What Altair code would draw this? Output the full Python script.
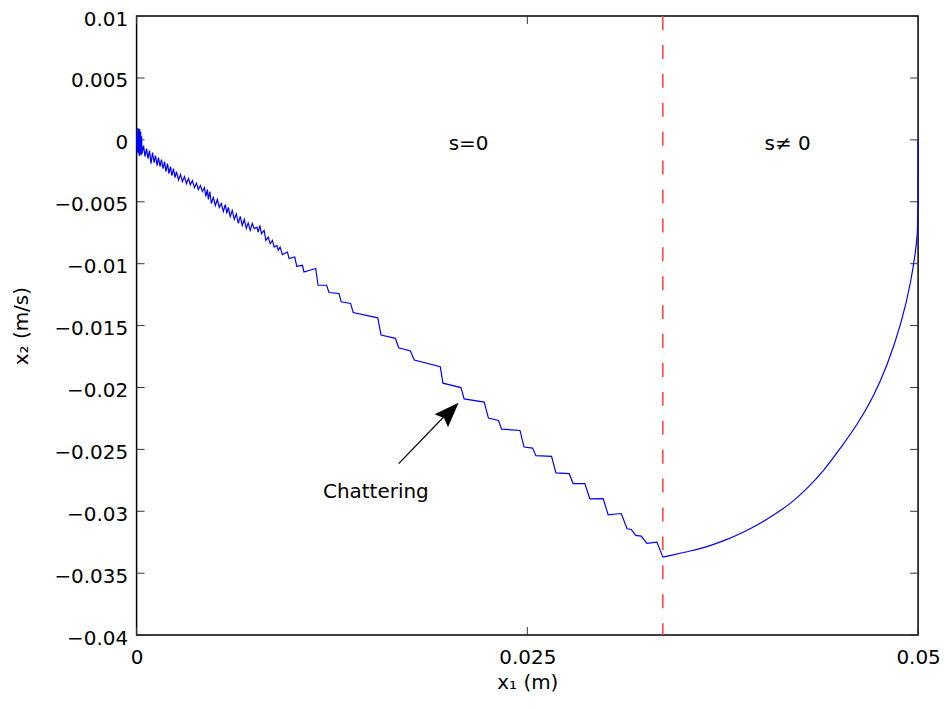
import altair as alt
import pandas as pd

# ---- reaching phase (s != 0): from the initial state to the switching line ----
reach_x1 = [
    0.05, 0.05, 0.05, 0.04997, 0.04994, 0.04951, 0.04887, 0.04802, 0.04717, 0.04611,
    0.04504, 0.04399, 0.04292, 0.04186, 0.04080, 0.03973, 0.03867, 0.03761, 0.03654, 0.03548,
    0.03484, 0.03367,
]
reach_x2 = [
    0.0, -0.00248, -0.00490, -0.00651, -0.00771, -0.01152, -0.01490, -0.01812, -0.02058, -0.02293,
    -0.02488, -0.02663, -0.02811, -0.02932, -0.03026, -0.03109, -0.03177, -0.03235, -0.03283, -0.03319,
    -0.03337, -0.03370,
]

# ---- sliding phase (s = 0): staircase part ----
stair_x1 = [
    0.03367,
    0.03329, 0.03265, 0.03229, 0.03193, 0.03165, 0.03138, 0.03101, 0.03017, 0.02985, 0.02900,
    0.02868, 0.02793, 0.02768, 0.02683, 0.02655, 0.02555, 0.02534, 0.02479, 0.02453, 0.02336,
    0.02315, 0.02251, 0.02224, 0.02096, 0.02075, 0.01960, 0.01943, 0.01777, 0.01752, 0.01677,
    0.01656, 0.01564, 0.01543, 0.01386, 0.01369, 0.01309, 0.01295, 0.01231, 0.01216, 0.01161,
    0.01146, 0.01071, 0.01061, 0.01025, 0.01012, 0.00976, 0.00965, 0.00933, 0.00918, 0.00906,
    0.00897, 0.00880, 0.00869, 0.00855, 0.00842, 0.00827, 0.00816, 0.00799, 0.00789, 0.00778,
    0.00770, 0.00753,
]
stair_x2 = [
    -0.03370,
    -0.03249, -0.03259, -0.03200, -0.03195, -0.03147, -0.03141, -0.03018, -0.03028, -0.02897, -0.02899,
    -0.02776, -0.02776, -0.02696, -0.02690, -0.02556, -0.02551, -0.02489, -0.02481, -0.02347, -0.02336,
    -0.02266, -0.02247, -0.02118, -0.02092, -0.02001, -0.01965, -0.01832, -0.01778, -0.01705, -0.01679,
    -0.01603, -0.01576, -0.01437, -0.01394, -0.01321, -0.01308, -0.01241, -0.01233, -0.01174, -0.01174,
    -0.01039, -0.01067, -0.01013, -0.01021, -0.00946, -0.00959, -0.00906, -0.00927, -0.00866, -0.00892,
    -0.00852, -0.00866, -0.00812, -0.00838, -0.00785, -0.00812, -0.00731, -0.00758, -0.00691, -0.00745,
    -0.00705, -0.00717,
]

# ---- sliding phase: high-frequency chattering near the origin ----
chatter_x1 = [
    0.00740, 0.00727, 0.00714, 0.00702, 0.00689, 0.00676, 0.00663, 0.00651, 0.00638, 0.00625,
    0.00612, 0.00599, 0.00587, 0.00577, 0.00568, 0.00555, 0.00542, 0.00529, 0.00517, 0.00504,
    0.00491, 0.00478, 0.00469, 0.00459, 0.00453, 0.00443, 0.00434, 0.00421, 0.00408, 0.00395,
    0.00383, 0.00370, 0.00357, 0.00344, 0.00332, 0.00319, 0.00306, 0.00293, 0.00281, 0.00268,
    0.00255, 0.00246, 0.00236, 0.00226, 0.00217, 0.00207, 0.00198, 0.00188, 0.00179, 0.00169,
    0.00159, 0.00150, 0.00140, 0.00131, 0.00121, 0.00112, 0.00102, 0.00092, 0.00083, 0.00073,
    0.00064, 0.00054, 0.00045, 0.00035, 0.00032, 0.00029, 0.00026, 0.00023, 0.00020, 0.00017,
    0.00014, 0.00011, 0.00008, 0.00005, 0.00003, 0.00001, 0.0,
]
chatter_x2 = [
    -0.00675, -0.00731, -0.00671, -0.00715, -0.00643, -0.00691, -0.00618, -0.00675, -0.00598, -0.00643,
    -0.00570, -0.00618, -0.00546, -0.00594, -0.00522, -0.00578, -0.00514, -0.00546, -0.00481, -0.00530,
    -0.00465, -0.00514, -0.00417, -0.00481, -0.00401, -0.00457, -0.00385, -0.00417, -0.00369, -0.00401,
    -0.00349, -0.00385, -0.00329, -0.00361, -0.00312, -0.00353, -0.00296, -0.00337, -0.00280, -0.00324,
    -0.00256, -0.00304, -0.00232, -0.00288, -0.00216, -0.00272, -0.00192, -0.00256, -0.00176, -0.00232,
    -0.00159, -0.00216, -0.00143, -0.00208, -0.00127, -0.00184, -0.00103, -0.00192, -0.00087, -0.00151,
    -0.00071, -0.00135, -0.00047, -0.00111, 0.00030, -0.00125, 0.00066, -0.00118, 0.00085, -0.00130,
    0.00090, -0.00110, 0.00095, -0.00100, 0.00060, -0.00050, 0.0,
]

x_ticks = [0, 0.025, 0.05]
y_ticks = [0.01, 0.005, 0, -0.005, -0.01, -0.015, -0.02, -0.025, -0.03, -0.035, -0.04]

switch_x = [0.03367]

note_text = ["s=0", "s\u2260 0", "Chattering"]
note_x = [0.02124, 0.04165, 0.01531]
note_y = [-0.00031, -0.00031, -0.02841]

arrow_x = [0.01677, 0.02009]
arrow_y = [-0.02615, -0.02180]
head_x = [0.01991]
head_y = [-0.02214]

W, H = 784, 621
FONT = "DejaVu Sans"
FS = 20

xs = alt.Scale(domain=[0, 0.05], nice=False, zero=False)
ys = alt.Scale(domain=[-0.04, 0.01], nice=False, zero=False)

x_axis = alt.Axis(values=x_ticks, format="~g", title="x\u2081 (m)", labelPadding=12, titlePadding=6)
y_axis = alt.Axis(values=y_ticks, format="~g", title="x\u2082 (m/s)", labelPadding=9,
                  titlePadding=22, labelOffset=3)

reach = pd.DataFrame({"x1": reach_x1, "x2": reach_x2, "i": list(range(len(reach_x1)))})
sx1 = stair_x1 + chatter_x1
sx2 = stair_x2 + chatter_x2
slide = pd.DataFrame({"x1": sx1, "x2": sx2, "i": list(range(len(sx1)))})

reach_line = alt.Chart(reach).mark_line(
    color="#0000ff", strokeWidth=1.2, interpolate="catmull-rom"
).encode(
    x=alt.X("x1:Q", scale=xs, axis=x_axis),
    y=alt.Y("x2:Q", scale=ys, axis=y_axis),
    order="i:Q",
)

slide_line = alt.Chart(slide).mark_line(color="#0000ff", strokeWidth=1.2).encode(
    x=alt.X("x1:Q", scale=xs),
    y=alt.Y("x2:Q", scale=ys),
    order="i:Q",
)

switch = alt.Chart(pd.DataFrame({"x": switch_x})).mark_rule(
    color="#ff3b3b", strokeDash=[14, 15], strokeWidth=1.5
).encode(x=alt.X("x:Q", scale=xs))

notes = alt.Chart(pd.DataFrame({"t": note_text, "x": note_x, "y": note_y})).mark_text(
    font=FONT, fontSize=FS, color="black", align="center", baseline="middle"
).encode(x=alt.X("x:Q", scale=xs), y=alt.Y("y:Q", scale=ys), text="t:N")

arrow_df = pd.DataFrame({"x": [arrow_x[0]], "y": [arrow_y[0]], "x2": [arrow_x[1]], "y2": [arrow_y[1]]})
arrow_line = alt.Chart(arrow_df).mark_rule(color="black", strokeWidth=1.2).encode(
    x=alt.X("x:Q", scale=xs), y=alt.Y("y:Q", scale=ys), x2="x2:Q", y2="y2:Q"
)
arrow_head = alt.Chart(pd.DataFrame({"x": head_x, "y": head_y})).mark_point(
    shape="M0,-1L0.6,0.6L0,0.35L-0.6,0.6Z", size=980, filled=True, color="black",
    opacity=1, angle=44
).encode(x=alt.X("x:Q", scale=xs), y=alt.Y("y:Q", scale=ys))

tick_col = "#333333"
xt = pd.DataFrame({"v": x_ticks})
yt = pd.DataFrame({"v": y_ticks})
ticks_bottom = alt.Chart(xt).mark_rule(color=tick_col, strokeWidth=1).encode(
    x=alt.X("v:Q", scale=xs), y=alt.value(H), y2=alt.value(H - 8))
ticks_top = alt.Chart(xt).mark_rule(color=tick_col, strokeWidth=1).encode(
    x=alt.X("v:Q", scale=xs), y=alt.value(0), y2=alt.value(8))
ticks_left = alt.Chart(yt).mark_rule(color=tick_col, strokeWidth=1).encode(
    y=alt.Y("v:Q", scale=ys), x=alt.value(0), x2=alt.value(8))
ticks_right = alt.Chart(yt).mark_rule(color=tick_col, strokeWidth=1).encode(
    y=alt.Y("v:Q", scale=ys), x=alt.value(W), x2=alt.value(W - 8))

chart = alt.layer(
    switch, ticks_bottom, ticks_top, ticks_left, ticks_right,
    reach_line, slide_line, arrow_line, arrow_head, notes
).properties(
    width=W, height=H,
    autosize=alt.AutoSizeParams(type="none"),
    padding={"left": 129, "top": 7, "right": 25, "bottom": 64},
    background="white",
).configure_view(
    stroke="black", strokeWidth=1.5
).configure_axis(
    grid=False, domain=False, ticks=False, labelFlush=False,
    labelFont=FONT, labelFontSize=FS, labelColor="black",
    titleFont=FONT, titleFontSize=FS, titleColor="black", titleFontWeight="normal",
)

chart.save("out.html", embed_options={"renderer": "svg", "actions": False})
